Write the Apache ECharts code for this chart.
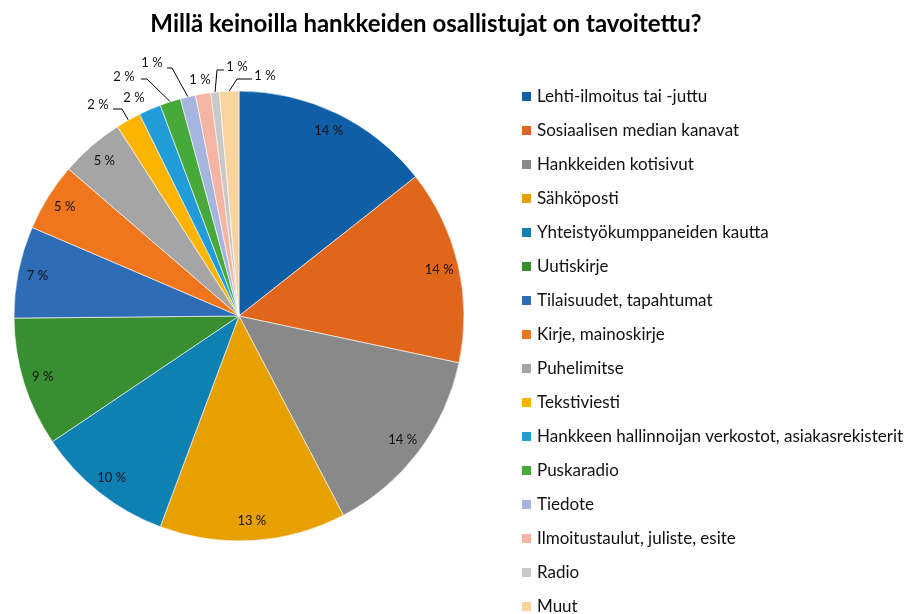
<!DOCTYPE html>
<html>
<head>
<meta charset="utf-8">
<script src="https://cdn.jsdelivr.net/npm/echarts@6/dist/echarts.min.js"></script>
<style>
  html, body { margin: 0; padding: 0; background: #fff; }
  #chart { width: 908px; height: 614px; }
</style>
</head>
<body>
<div id="chart"></div>
<script>
const names = [
    'Lehti-ilmoitus tai -juttu',
    'Sosiaalisen median kanavat',
    'Hankkeiden kotisivut',
    'Sähköposti',
    'Yhteistyökumppaneiden kautta',
    'Uutiskirje',
    'Tilaisuudet, tapahtumat',
    'Kirje, mainoskirje',
    'Puhelimitse',
    'Tekstiviesti',
    'Hankkeen hallinnoijan verkostot, asiakasrekisterit',
    'Puskaradio',
    'Tiedote',
    'Ilmoitustaulut, juliste, esite',
    'Radio',
    'Muut'
]
// osuudet (%) luettu kuvasta
const values = [14.4, 14.0, 14.0, 13.4, 9.9, 9.3, 6.6, 4.9, 4.6, 1.8, 1.6, 1.5, 1.1, 1.1, 0.6, 1.4]
const colors = [
    '#0F5FA6', '#E0661C', '#898989', '#E6A100', '#0E80B2', '#388E30', '#2E6CB5', '#EF761D',
    '#A5A5A5', '#FDB400', '#219CD8', '#46A93A', '#A5B5DD', '#F5B5A2', '#C9C9C9', '#FDD39D'
]
// montako isointa siivua saa tekstin sisäpuolelle
const insideCount = 9

const pct = p => Math.round(p.percent) + ' %'

// ulkopuolisten tekstien paikat ja viivojen taitekohdat
const outerSpots = {
    9:  { x: 98,  y: 105, line: [[122, 109], [113, 109]] },
    10: { x: 134, y: 98 },
    11: { x: 124, y: 77,  line: [[147, 79], [141, 79]] },
    12: { x: 152, y: 63,  line: [[172, 68], [167, 68]] },
    13: { x: 200, y: 80 },
    14: { x: 237, y: 67,  line: [[217, 70], [224, 70]] },
    15: { x: 265, y: 76,  line: [[237, 79], [252, 79]] }
}

const pieData = names.map((name, i) => ({
    name,
    value: values[i],
    itemStyle: { color: colors[i] },
    label: { show: i >= insideCount },
    labelLine: { show: !!(outerSpots[i] && outerSpots[i].line) }
}))

const ringData = names.map((name, i) => ({
    name,
    value: values[i],
    label: { show: i < insideCount }
}))

const option = {
    animation: false,
    color: colors,
    title: {
        text: 'Millä keinoilla hankkeiden osallistujat on tavoitettu?',
        left: 421,
        top: 7,
        textAlign: 'center',
        textStyle: { fontFamily: 'Lato', fontSize: 24, fontWeight: 'bold', color: '#000' }
    },
    legend: {
        orient: 'vertical',
        left: 520,
        top: 88,
        height: 600,
        padding: 0,
        itemWidth: 11,
        itemHeight: 11,
        itemGap: 17,
        icon: 'rect',
        data: names,
        textStyle: { fontFamily: 'Lato', fontSize: 17, color: '#111' }
    },
    series: [
        {
            name: 'keinot',
            type: 'pie',
            center: [239, 316],
            radius: [0, 225],
            startAngle: 90,
            clockwise: true,
            avoidLabelOverlap: false,
            itemStyle: { borderColor: '#fff', borderWidth: 0.6 },
            label: {
                position: 'outside',
                formatter: pct,
                fontFamily: 'Lato',
                fontSize: 13,
                color: '#111'
            },
            labelLine: {
                length: 10,
                length2: 5,
                lineStyle: { color: '#000', width: 1 }
            },
            labelLayout: function (p) {
                const spot = outerSpots[p.dataIndex]
                if (!spot) return
                const res = { x: spot.x, y: spot.y, align: 'center', verticalAlign: 'middle' }
                if (spot.line && p.labelLinePoints) {
                    res.labelLinePoints = [p.labelLinePoints[0], spot.line[0], spot.line[1]]
                }
                return res
            },
            data: pieData
        },
        {
            name: 'tekstit',
            type: 'pie',
            center: [239, 316],
            radius: [180, 225],
            startAngle: 90,
            clockwise: true,
            silent: true,
            itemStyle: { color: 'transparent' },
            label: {
                position: 'inside',
                formatter: pct,
                fontFamily: 'Lato',
                fontSize: 13,
                color: '#111'
            },
            labelLine: { show: false },
            data: ringData
        }
    ]
}

const chart = echarts.init(document.getElementById('chart'))
chart.setOption(option)
</script>
</body>
</html>
